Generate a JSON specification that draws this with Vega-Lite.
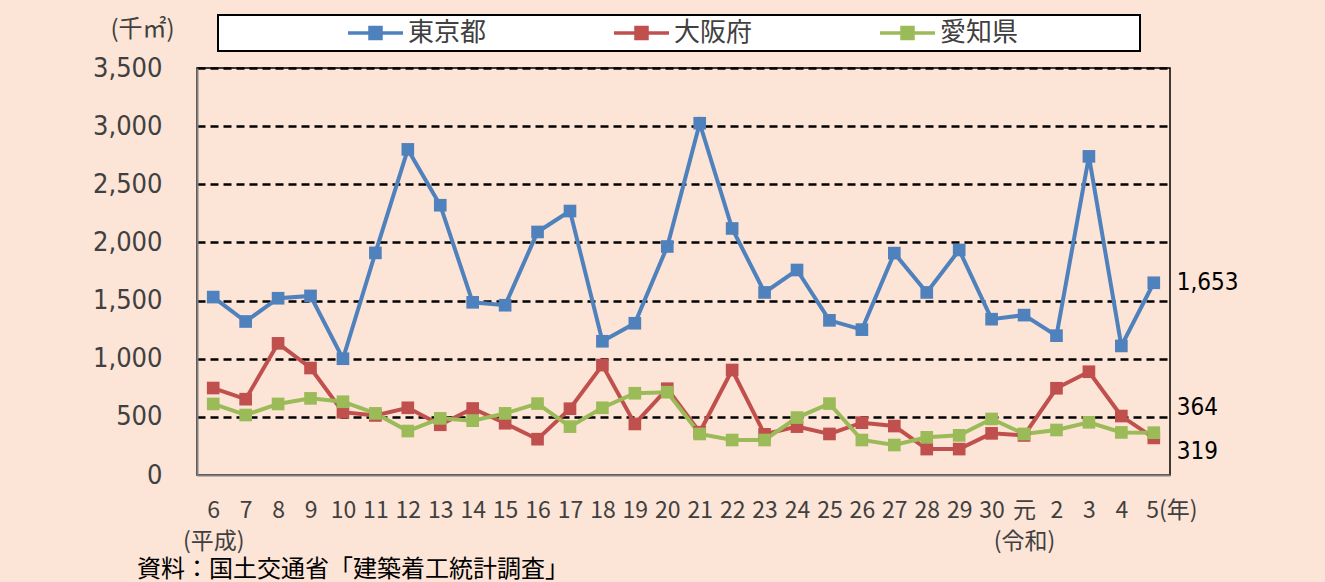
{
  "$schema": "https://vega.github.io/schema/vega-lite/v6.json",
  "width": 973,
  "height": 407,
  "autosize": {"type": "none"},
  "padding": {"left": 197, "top": 68, "right": 155, "bottom": 107},
  "background": "#FCE4D6",
  "config": {
    "view": {"stroke": "#000000", "strokeWidth": 1.5},
    "font": "Noto Sans CJK JP"
  },
  "title": {
    "text": "資料：国土交通省「建築着工統計調査」",
    "orient": "bottom",
    "anchor": "start",
    "frame": "group",
    "dx": -60,
    "offset": 5,
    "fontSize": 24,
    "font": "Noto Sans CJK JP",
    "fontWeight": "normal",
    "color": "#000000"
  },
  "datasets": {
    "main": [
      {"year": "6", "series": "東京都", "value": 1530},
      {"year": "7", "series": "東京都", "value": 1320},
      {"year": "8", "series": "東京都", "value": 1520},
      {"year": "9", "series": "東京都", "value": 1540},
      {"year": "10", "series": "東京都", "value": 1000},
      {"year": "11", "series": "東京都", "value": 1910},
      {"year": "12", "series": "東京都", "value": 2800},
      {"year": "13", "series": "東京都", "value": 2320},
      {"year": "14", "series": "東京都", "value": 1485},
      {"year": "15", "series": "東京都", "value": 1460},
      {"year": "16", "series": "東京都", "value": 2090},
      {"year": "17", "series": "東京都", "value": 2270},
      {"year": "18", "series": "東京都", "value": 1150},
      {"year": "19", "series": "東京都", "value": 1305},
      {"year": "20", "series": "東京都", "value": 1965},
      {"year": "21", "series": "東京都", "value": 3025},
      {"year": "22", "series": "東京都", "value": 2120},
      {"year": "23", "series": "東京都", "value": 1570},
      {"year": "24", "series": "東京都", "value": 1763},
      {"year": "25", "series": "東京都", "value": 1330},
      {"year": "26", "series": "東京都", "value": 1250},
      {"year": "27", "series": "東京都", "value": 1908},
      {"year": "28", "series": "東京都", "value": 1570},
      {"year": "29", "series": "東京都", "value": 1935},
      {"year": "30", "series": "東京都", "value": 1340},
      {"year": "元", "series": "東京都", "value": 1375},
      {"year": "2", "series": "東京都", "value": 1198},
      {"year": "3", "series": "東京都", "value": 2740},
      {"year": "4", "series": "東京都", "value": 1110},
      {"year": "5", "series": "東京都", "value": 1653},
      {"year": "6", "series": "大阪府", "value": 748},
      {"year": "7", "series": "大阪府", "value": 652},
      {"year": "8", "series": "大阪府", "value": 1132},
      {"year": "9", "series": "大阪府", "value": 920},
      {"year": "10", "series": "大阪府", "value": 540},
      {"year": "11", "series": "大阪府", "value": 512},
      {"year": "12", "series": "大阪府", "value": 578},
      {"year": "13", "series": "大阪府", "value": 432},
      {"year": "14", "series": "大阪府", "value": 572},
      {"year": "15", "series": "大阪府", "value": 445},
      {"year": "16", "series": "大阪府", "value": 308},
      {"year": "17", "series": "大阪府", "value": 570},
      {"year": "18", "series": "大阪府", "value": 945},
      {"year": "19", "series": "大阪府", "value": 439},
      {"year": "20", "series": "大阪府", "value": 742},
      {"year": "21", "series": "大阪府", "value": 368},
      {"year": "22", "series": "大阪府", "value": 903},
      {"year": "23", "series": "大阪府", "value": 350},
      {"year": "24", "series": "大阪府", "value": 416},
      {"year": "25", "series": "大阪府", "value": 353},
      {"year": "26", "series": "大阪府", "value": 450},
      {"year": "27", "series": "大阪府", "value": 421},
      {"year": "28", "series": "大阪府", "value": 223},
      {"year": "29", "series": "大阪府", "value": 223},
      {"year": "30", "series": "大阪府", "value": 358},
      {"year": "元", "series": "大阪府", "value": 340},
      {"year": "2", "series": "大阪府", "value": 746},
      {"year": "3", "series": "大阪府", "value": 888},
      {"year": "4", "series": "大阪府", "value": 507},
      {"year": "5", "series": "大阪府", "value": 319},
      {"year": "6", "series": "愛知県", "value": 611},
      {"year": "7", "series": "愛知県", "value": 516},
      {"year": "8", "series": "愛知県", "value": 611},
      {"year": "9", "series": "愛知県", "value": 659},
      {"year": "10", "series": "愛知県", "value": 630},
      {"year": "11", "series": "愛知県", "value": 530},
      {"year": "12", "series": "愛知県", "value": 378},
      {"year": "13", "series": "愛知県", "value": 487},
      {"year": "14", "series": "愛知県", "value": 467},
      {"year": "15", "series": "愛知県", "value": 530},
      {"year": "16", "series": "愛知県", "value": 614},
      {"year": "17", "series": "愛知県", "value": 416},
      {"year": "18", "series": "愛知県", "value": 578},
      {"year": "19", "series": "愛知県", "value": 703},
      {"year": "20", "series": "愛知県", "value": 712},
      {"year": "21", "series": "愛知県", "value": 353},
      {"year": "22", "series": "愛知県", "value": 301},
      {"year": "23", "series": "愛知県", "value": 301},
      {"year": "24", "series": "愛知県", "value": 494},
      {"year": "25", "series": "愛知県", "value": 614},
      {"year": "26", "series": "愛知県", "value": 301},
      {"year": "27", "series": "愛知県", "value": 258},
      {"year": "28", "series": "愛知県", "value": 324},
      {"year": "29", "series": "愛知県", "value": 341},
      {"year": "30", "series": "愛知県", "value": 482},
      {"year": "元", "series": "愛知県", "value": 353},
      {"year": "2", "series": "愛知県", "value": 387},
      {"year": "3", "series": "愛知県", "value": 453},
      {"year": "4", "series": "愛知県", "value": 366},
      {"year": "5", "series": "愛知県", "value": 364}
    ]
  },
  "data": {"name": "main"},
  "layer": [
    {
      "mark": {
        "type": "line",
        "strokeWidth": 4,
        "point": {"shape": "square", "filled": true, "size": 160, "opacity": 1}
      },
      "encoding": {
        "x": {
          "field": "year",
          "type": "ordinal",
          "sort": null,
          "scale": {"domain": ["6","7","8","9","10","11","12","13","14","15","16","17","18","19","20","21","22","23","24","25","26","27","28","29","30","元","2","3","4","5"]},
          "axis": {
            "title": null,
            "labelAngle": 0,
            "ticks": false,
            "tickSize": 0,
            "grid": false,
            "domainColor": "#808080",
            "domainWidth": 2,
            "labelFont": "Noto Sans CJK JP",
            "labelFontSize": 23,
            "labelColor": "#404040",
            "labelPadding": 24,
            "labelBaseline": "top",
            "labelLineHeight": 31,
            "labelOverlap": false,
            "labelExpr": "datum.value == '6' ? ['6', '(平成)'] : datum.value == '元' ? ['元', '(令和)'] : datum.value == '5' ? '5(年)' : datum.value",
            "labelAlign": {"condition": {"test": "datum.value == '5'", "value": "left"}, "value": "center"},
            "labelOffset": {"condition": {"test": "datum.value == '5'", "value": -8}, "value": 0}
          }
        },
        "y": {
          "field": "value",
          "type": "quantitative",
          "scale": {"domain": [0, 3500], "nice": false},
          "axis": {
            "title": "(千㎡)",
            "titleAngle": 0,
            "titleX": -55,
            "titleY": -39,
            "titleAlign": "center",
            "titleBaseline": "middle",
            "titleFont": "Noto Sans CJK JP",
            "titleFontSize": 24,
            "titleFontWeight": "normal",
            "titleColor": "#404040",
            "values": [0, 500, 1000, 1500, 2000, 2500, 3000, 3500],
            "format": ",d",
            "labelFont": "Liberation Sans Narrow, DejaVu Sans Condensed, DejaVu Sans",
            "labelFontSize": 27,
            "labelColor": "#404040",
            "labelPadding": 35,
            "ticks": false,
            "tickSize": 0,
            "domainColor": "#808080",
            "domainWidth": 2,
            "grid": true,
            "gridColor": {"condition": {"test": "datum.value == 0", "value": "transparent"}, "value": "#000000"},
            "gridDash": [8, 5],
            "gridWidth": 2.5
          }
        },
        "color": {
          "field": "series",
          "type": "nominal",
          "scale": {"domain": ["東京都", "大阪府", "愛知県"], "range": ["#4F81BD", "#C0504D", "#9BBB59"]},
          "legend": {
            "orient": "none",
            "legendX": 21,
            "legendY": -53,
            "direction": "horizontal",
            "columns": 3,
            "title": "東京都東",
            "titleOrient": "right",
            "titleFont": "Noto Sans CJK JP",
            "titleFontSize": 26,
            "titleColor": "transparent",
            "titlePadding": 13,
            "fillColor": "#FFFFFF",
            "strokeColor": "#000000",
            "padding": 4,
            "clipHeight": 28,
            "columnPadding": 1,
            "symbolOffset": 124,
            "labelFont": "Noto Sans CJK JP",
            "labelFontSize": 26,
            "labelColor": "#404040",
            "labelOffset": 3,
            "labelLimit": 400,
            "symbolType": "M-1,0H1M-0.2,-0.2H0.2V0.2H-0.2Z",
            "symbolSize": 3025,
            "symbolStrokeWidth": 3.5,
            "encode": {
              "legend": {"update": {"strokeWidth": {"value": 2}}},
              "symbols": {
                "update": {
                  "shape": {"value": "M-1,0H1M-0.2,-0.2H0.2V0.2H-0.2Z"},
                  "size": {"value": 3025},
                  "strokeWidth": {"value": 3.5},
                  "fill": {"scale": "color", "field": "value"},
                  "stroke": {"scale": "color", "field": "value"},
                  "opacity": {"value": 1},
                  "fillOpacity": {"value": 1}
                }
              }
            }
          }
        }
      }
    },
    {
      "transform": [{"filter": "datum.year == '5' && datum.series == '東京都'"}],
      "mark": {"type": "text", "align": "left", "baseline": "middle", "dx": 23, "dy": 0, "font": "Liberation Sans Narrow, DejaVu Sans Condensed, DejaVu Sans", "fontSize": 24, "color": "#000000"},
      "encoding": {
        "x": {"field": "year", "type": "ordinal", "sort": null},
        "y": {"field": "value", "type": "quantitative"},
        "text": {"field": "value", "type": "quantitative", "format": ",d"}
      }
    },
    {
      "transform": [{"filter": "datum.year == '5' && datum.series == '愛知県'"}],
      "mark": {"type": "text", "align": "left", "baseline": "middle", "dx": 23, "dy": -25, "font": "Liberation Sans Narrow, DejaVu Sans Condensed, DejaVu Sans", "fontSize": 24, "color": "#000000"},
      "encoding": {
        "x": {"field": "year", "type": "ordinal", "sort": null},
        "y": {"field": "value", "type": "quantitative"},
        "text": {"field": "value", "type": "quantitative", "format": ",d"}
      }
    },
    {
      "transform": [{"filter": "datum.year == '5' && datum.series == '大阪府'"}],
      "mark": {"type": "text", "align": "left", "baseline": "middle", "dx": 23, "dy": 14, "font": "Liberation Sans Narrow, DejaVu Sans Condensed, DejaVu Sans", "fontSize": 24, "color": "#000000"},
      "encoding": {
        "x": {"field": "year", "type": "ordinal", "sort": null},
        "y": {"field": "value", "type": "quantitative"},
        "text": {"field": "value", "type": "quantitative", "format": ",d"}
      }
    }
  ]
}
